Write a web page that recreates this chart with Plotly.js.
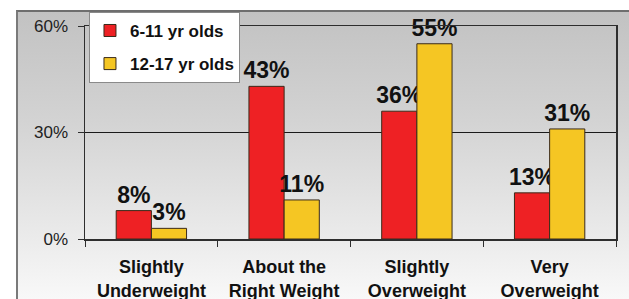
<!DOCTYPE html>
<html>
<head>
<meta charset="utf-8">
<script src="https://cdn.plot.ly/plotly-3.0.1.min.js"></script>
<style>
  html, body { margin: 0; padding: 0; background: #ffffff; }
  #frame {
    position: absolute; left: 16px; top: 10px; width: 620px; height: 295px;
    border-left: 2px solid #7a7a7a; border-top: 2px solid #6e6e6e;
    background: linear-gradient(to bottom, #c2c2c2 0%, #d2d2d2 35%, #eaeaea 75%, #fafafa 100%);
  }
  #chart { position: absolute; left: 0; top: 0; width: 629px; height: 299px; }
</style>
</head>
<body>
<div id="frame"></div>
<div id="chart"></div>
<script>
const categories = ["Slightly<br>Underweight", "About the<br>Right Weight", "Slightly<br>Overweight", "Very<br>Overweight"];
const seriesNames = ["6-11 yr olds", "12-17 yr olds"];
const kids6to11 = [8, 43, 36, 13];
const kids12to17 = [3, 11, 55, 31];
const yTickVals = [0, 30, 60];
const yTickText = ["0%", "30%", "60%"];

const labelFont = {family: "Arial, Liberation Sans, sans-serif", size: 23, color: "#111111", weight: "bold"};

function pct(arr) { return arr.map(v => v + "%"); }

const traces = [
  {
    type: "bar", name: seriesNames[0], x: categories, y: kids6to11,
    text: pct(kids6to11), textposition: "outside", textfont: labelFont,
    constraintext: "none", cliponaxis: false,
    marker: {color: "#ee2124", line: {color: "#3a2a1a", width: 1}},
    legendgroup: "a", hoverinfo: "none"
  },
  {
    type: "bar", name: seriesNames[1], x: categories, y: kids12to17,
    text: pct(kids12to17), textposition: "outside", textfont: labelFont,
    constraintext: "none", cliponaxis: false,
    marker: {color: "#f5c623", line: {color: "#3a2a1a", width: 1}},
    legendgroup: "b", hoverinfo: "none"
  }
];

const layout = {
  width: 629, height: 299,
  margin: {l: 85, r: 13, t: 26, b: 60, pad: 0},
  paper_bgcolor: "rgba(0,0,0,0)",
  plot_bgcolor: "rgba(0,0,0,0)",
  barmode: "group",
  bargap: 0.47,
  bargroupgap: 0,
  showlegend: true,
  legend: {
    x: 0.0075, y: 1.066, xanchor: "left", yanchor: "top",
    bgcolor: "#ffffff", bordercolor: "#8a8a8a", borderwidth: 1,
    font: {family: "Arial, Liberation Sans, sans-serif", size: 17, color: "#111111", weight: "bold"},
    traceorder: "grouped", tracegroupgap: 8, itemwidth: 30
  },
  xaxis: {
    type: "category",
    showline: true, mirror: true, linecolor: "#2e2e2e", linewidth: 1.5,
    ticks: "outside", tickson: "boundaries", ticklen: 6, tickcolor: "#2e2e2e", tickwidth: 1,
    tickfont: {family: "Arial, Liberation Sans, sans-serif", size: 18, color: "#111111", weight: "bold"},
    ticklabelstandoff: 11,
    showgrid: false, zeroline: false, fixedrange: true
  },
  yaxis: {
    range: [0, 60],
    tickvals: yTickVals, ticktext: yTickText,
    showline: true, mirror: true, linecolor: "#2e2e2e", linewidth: 1.5,
    ticks: "outside", ticklen: 6, tickcolor: "#2e2e2e",
    tickfont: {family: "Arial, Liberation Sans, sans-serif", size: 17, color: "#222222"},
    ticklabelstandoff: 6,
    showgrid: true, gridcolor: "#1a1a1a", gridwidth: 1,
    zeroline: false, fixedrange: true
  }
};

Plotly.newPlot("chart", traces, layout, {displayModeBar: false, staticPlot: true});
</script>
</body>
</html>
